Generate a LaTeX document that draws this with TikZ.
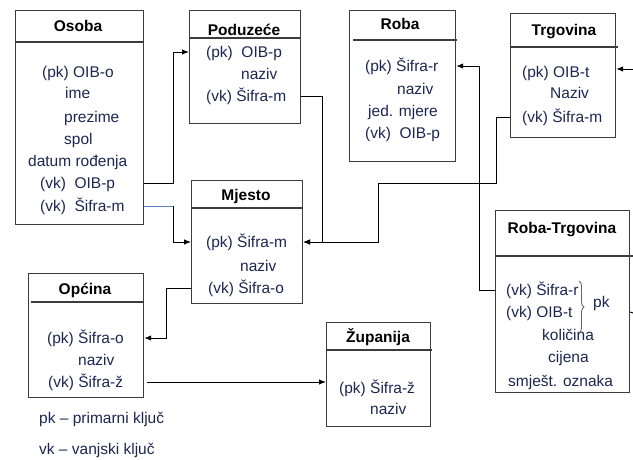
\documentclass[tikz,border=0pt]{standalone}
\usepackage{fontspec}
\setmainfont{Liberation Sans}
\usetikzlibrary{arrows.meta,decorations.pathreplacing}
\definecolor{tcol}{RGB}{28,38,82}
\definecolor{bcol}{RGB}{60,60,60}
\definecolor{lblue}{RGB}{90,130,200}
\newcommand\fsz{\fontsize{15.5}{18}\selectfont}
\begin{document}
\begin{tikzpicture}[x=1pt,y=-1pt,
 ebox/.style={draw=bcol, line width=1.2pt, anchor=north west, inner sep=0},
 hdr/.style={draw=bcol, line width=1.2pt},
 txt/.style={anchor=west, inner sep=0, text height=14pt, text depth=3pt, font=\fsz, text=tcol},
 ttl/.style={anchor=center, inner sep=0, text height=14pt, text depth=3pt, font=\fsz\bfseries, text=black},
 conn/.style={draw=black, line width=1pt, -{Latex[length=7pt,width=5.5pt]}},
 plain/.style={draw=black, line width=1pt},
 blueln/.style={draw=lblue, line width=1pt}]
\useasboundingbox (0,0) rectangle (633,459);

% boxes
\node[ebox, minimum width=128pt, minimum height=214pt] (osoba) at (15,10) {};
\node[ebox, minimum width=111pt, minimum height=113pt] (podu) at (189,10) {};
\node[ebox, minimum width=106pt, minimum height=151pt] (roba) at (349,10) {};
\node[ebox, minimum width=105pt, minimum height=124pt] (trg) at (510,13) {};
\node[ebox, minimum width=111pt, minimum height=123pt] (mjesto) at (191,180) {};
\node[ebox, minimum width=115pt, minimum height=124pt] (opc) at (28,273) {};
\node[ebox, minimum width=104pt, minimum height=104pt] (zup) at (326,322) {};
\node[ebox, minimum width=134pt, minimum height=182pt] (rt) at (495,210) {};

% header lines
\draw[hdr] (15,42) -- (143,42);
\draw[hdr] (189,38) -- (301,38);
\draw[hdr] (353,40) -- (457,40);
\draw[hdr] (510,47) -- (618,47);
\draw[hdr] (191,208) -- (303,208);
\draw[hdr] (31,302) -- (143,302);
\draw[hdr] (326,350) -- (432,350);
\draw[hdr] (495,256) -- (633,256);

% Osoba
\node[ttl] (oT) at (78,26) {Osoba};
\node[txt] (oPKo) at (42,72) {(pk) OIB-o};
\node[txt] (oIme) at (65,93) {ime};
\node[txt] (oPrez) at (64,117) {prezime};
\node[txt] (oSpol) at (64,139) {spol};
\node[txt] (oDat) at (28,161) {datum rođenja};
\node[txt] (oVKp) at (40,183) {(vk)\ \ OIB-p};
\node[txt] (oVKm) at (40,206) {(vk)\ \ Šifra-m};

% Poduzece
\node[ttl] (pT) at (244,30) {Poduzeće};
\node[txt] (pPK) at (206,52) {(pk)\ \ OIB-p};
\node[txt] (pNaz) at (241,74) {naziv};
\node[txt] (pVK) at (206,96) {(vk)\ Šifra-m};

% Roba
\node[ttl] (rT) at (400,24) {Roba};
\node[txt] (rPK) at (365,66) {(pk) Šifra-r};
\node[txt] (rNaz) at (397,89) {naziv};
\node[txt] (rJed) at (368,111) {jed. mjere};
\node[txt] (rVK) at (365,133) {(vk)\ \ OIB-p};

% Trgovina
\node[ttl] (tT) at (564,30) {Trgovina};
\node[txt] (tPK) at (522,72) {(pk) OIB-t};
\node[txt] (tNaz) at (550,93) {Naziv};
\node[txt] (tVK) at (522,117) {(vk) Šifra-m};

% Mjesto
\node[ttl] (mT) at (246,195) {Mjesto};
\node[txt] (mPK) at (206,242) {(pk) Šifra-m};
\node[txt] (mNaz) at (240,266) {naziv};
\node[txt] (mVK) at (208,288) {(vk) Šifra-o};

% Opcina
\node[ttl] (cT) at (85,289) {Općina};
\node[txt] (cPK) at (47,338) {(pk) Šifra-o};
\node[txt] (cNaz) at (78,360) {naziv};
\node[txt] (cVK) at (48,382) {(vk) Šifra-ž};

% Zupanija
\node[ttl] (zT) at (378,337) {Županija};
\node[txt] (zPK) at (339,388) {(pk) Šifra-ž};
\node[txt] (zNaz) at (370,409) {naziv};

% Roba-Trgovina
\node[ttl] (rtTi) at (562,228) {Roba-Trgovina};
\node[txt] (rtR) at (506,290) {(vk) Šifra-r};
\node[txt] (rtT) at (506,312) {(vk) OIB-t};
\node[txt] (rtPk) at (593,302) {pk};
\node[txt] (rtKol) at (542,335) {količina};
\node[txt] (rtCij) at (548,357) {cijena};
\node[txt] (rtSm) at (508,381) {smješt. oznaka};
\draw[decorate, decoration={brace, amplitude=5pt}, draw=gray!80!black, line width=0.9pt] (579,281) -- (579,333);

% legend
\node[txt] (lg1) at (39,418) {pk – primarni ključ};
\node[txt] (lg2) at (39,449) {vk – vanjski ključ};

% connectors
\draw[conn] (osoba.east |- oVKp.west) -- ++(29,0) |- (podu.west |- pPK.west);
\draw[blueln] (osoba.east |- oVKm.west) -- ++(29,0) coordinate (kb);
\draw[conn] (kb) |- (mjesto.west |- mPK.west);
\draw[conn] (podu.east |- pVK.west) -- ++(21,0) |- (mjesto.east |- mPK.west);
\coordinate (t1) at (378,183);
\draw[conn] (trg.west |- tVK.west) -- ++(-14,0) |- (t1) |- (mjesto.east |- mPK.west);
\draw[conn] (rt.west |- rtR.west) -- ++(-16,0) |- (roba.east |- rPK.west);
\coordinate (e1) at (633,313);
\coordinate (e2) at (633,69);
\draw[plain] (rt.east |- rtT.west) -- (e1);
\draw[conn] (e2) -- (trg.east |- e2);
\draw[conn] (mjesto.west |- mVK.west) -- ++(-25,0) |- (opc.east |- cPK.west);
\draw[conn, shorten <=3pt] (opc.east |- cVK.west) -- (zup.west |- cVK.west);
\end{tikzpicture}
\end{document}
